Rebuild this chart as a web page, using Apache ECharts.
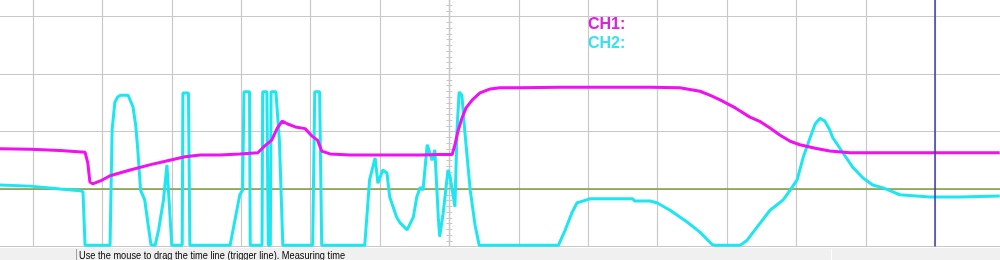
<!DOCTYPE html>
<html>
<head>
<meta charset="utf-8">
<script src="https://cdn.jsdelivr.net/npm/echarts@6/dist/echarts.min.js"></script>
<style>
html,body{margin:0;padding:0;background:#fff;}
#chart{width:1000px;height:260px;}
</style>
</head>
<body>
<div id="chart"></div>
<script>
// Time in divisions (0 = trigger line), voltage in divisions (0 = reference line)
const ch1Data = [[-6.48,0.70],[-6.04,0.69],[-5.61,0.67],[-5.25,0.64],[-5.21,0.45],[-5.18,0.12],[-5.14,0.09],[-5.03,0.14],[-4.89,0.23],[-4.60,0.33],[-4.32,0.42],[-4.03,0.50],[-3.81,0.56],[-3.59,0.59],[-3.31,0.59],[-3.02,0.61],[-2.76,0.63],[-2.66,0.75],[-2.56,0.85],[-2.48,1.06],[-2.41,1.18],[-2.33,1.13],[-2.22,1.08],[-2.08,1.05],[-1.98,0.92],[-1.90,0.85],[-1.84,0.66],[-1.72,0.61],[-1.43,0.59],[-1.00,0.59],[-0.71,0.59],[-0.42,0.59],[-0.14,0.60],[0.04,0.60],[0.08,0.77],[0.12,0.99],[0.18,1.23],[0.24,1.41],[0.33,1.55],[0.44,1.67],[0.59,1.74],[0.73,1.76],[1.02,1.76],[1.59,1.77],[2.17,1.77],[2.89,1.77],[3.32,1.76],[3.61,1.70],[3.76,1.63],[3.90,1.55],[4.12,1.41],[4.33,1.25],[4.48,1.17],[4.62,1.06],[4.76,0.94],[4.91,0.83],[5.05,0.77],[5.27,0.71],[5.48,0.66],[5.77,0.63],[6.49,0.63],[7.93,0.63]];

const ch2Data = [[-6.48,0.07],[-6.04,0.05],[-5.61,0.00],[-5.32,-0.03],[-5.28,-0.05],[-5.25,-0.98],[-4.89,-0.98],[-4.86,1.03],[-4.82,1.51],[-4.78,1.60],[-4.74,1.63],[-4.63,1.63],[-4.56,1.43],[-4.52,1.11],[-4.49,0.68],[-4.45,-0.02],[-4.39,-0.19],[-4.34,-0.63],[-4.30,-0.97],[-4.24,-0.98],[-4.19,-0.71],[-4.12,-0.19],[-4.07,0.42],[-4.04,-0.19],[-4.00,-0.98],[-3.85,-0.98],[-3.84,1.67],[-3.76,1.67],[-3.74,-0.98],[-3.16,-0.98],[-3.09,-0.54],[-3.02,-0.10],[-2.98,-0.02],[-2.96,1.69],[-2.88,1.69],[-2.87,-0.98],[-2.70,-0.98],[-2.69,1.69],[-2.63,1.69],[-2.61,-0.98],[-2.58,-0.98],[-2.57,1.69],[-2.50,1.69],[-2.45,0.85],[-2.40,-0.98],[-1.97,-0.98],[-1.94,1.69],[-1.87,1.69],[-1.84,-0.98],[-1.22,-0.98],[-1.15,0.16],[-1.07,0.54],[-1.03,0.10],[-0.96,0.33],[-0.90,0.28],[-0.86,-0.14],[-0.76,-0.49],[-0.71,-0.59],[-0.61,-0.71],[-0.52,-0.49],[-0.47,-0.14],[-0.42,0.03],[-0.38,-0.02],[-0.32,0.77],[-0.25,0.50],[-0.21,0.68],[-0.16,-0.49],[-0.14,-0.83],[-0.09,-0.42],[-0.02,0.33],[0.01,0.21],[0.08,-0.31],[0.11,1.03],[0.14,1.69],[0.18,1.63],[0.22,1.03],[0.30,-0.02],[0.37,-0.63],[0.43,-0.98],[1.57,-0.98],[1.67,-0.71],[1.77,-0.40],[1.84,-0.24],[1.92,-0.21],[2.03,-0.17],[2.64,-0.17],[2.67,-0.21],[2.89,-0.21],[2.99,-0.24],[3.18,-0.37],[3.42,-0.57],[3.61,-0.75],[3.79,-0.97],[3.84,-0.98],[4.19,-0.98],[4.29,-0.89],[4.48,-0.59],[4.62,-0.37],[4.81,-0.19],[4.91,-0.02],[5.01,0.16],[5.10,0.56],[5.20,0.90],[5.27,1.13],[5.34,1.23],[5.41,1.18],[5.48,1.03],[5.52,0.90],[5.67,0.63],[5.81,0.38],[5.96,0.19],[6.10,0.07],[6.25,0.02],[6.39,-0.05],[6.49,-0.10],[6.92,-0.14],[7.35,-0.14],[7.93,-0.12]];

const cursorTime = 7;
const channelLabels = ['CH1:', 'CH2:'];
const statusText = 'Use the mouse to drag the time line (trigger line). Measuring time';

const gridColor = '#c8c8c8';
const ch1Color = '#f010f0';
const ch2Color = '#1ee6f0';

const chart = echarts.init(document.getElementById('chart'), null, {renderer: 'canvas'});
const gridBox = {left: -36.4, right: -4.6, top: -6.5, bottom: 13.5, outerBoundsMode: 'none', containLabel: false};
chart.setOption({
  animation: false,
  backgroundColor: '#ffffff',
  grid: [Object.assign({}, gridBox), Object.assign({}, gridBox)],
  xAxis: [
    {type: 'value', min: -7, max: 8, interval: 1,
     axisLine: {show: true, onZero: true, lineStyle: {color: '#7f9b3c', width: 1.5}},
     axisTick: {show: false}, axisLabel: {show: false},
     splitLine: {show: true, lineStyle: {color: gridColor, width: 1.2}}},
    {gridIndex: 1, type: 'value', min: -7, max: 8, interval: 1, show: true,
     axisLine: {show: false, onZero: true}, axisTick: {show: false}, axisLabel: {show: false}, splitLine: {show: false}}
  ],
  yAxis: [
    {type: 'value', min: -1, max: 3.4, interval: 1,
     axisLine: {show: true, onZero: true, lineStyle: {color: gridColor, width: 1.2}},
     axisTick: {show: true, length: 3, lineStyle: {color: gridColor}},
     minorTick: {show: true, splitNumber: 10, length: 3, lineStyle: {color: gridColor}},
     axisLabel: {show: false},
     splitLine: {show: true, lineStyle: {color: gridColor, width: 1.2}}},
    {gridIndex: 1, type: 'value', min: -1, max: 3.4, interval: 1,
     axisLine: {show: true, onZero: true, lineStyle: {color: gridColor, width: 1.2}},
     axisTick: {show: true, inside: true, length: 3, lineStyle: {color: gridColor}},
     minorTick: {show: true, splitNumber: 10, length: 3, lineStyle: {color: gridColor}},
     axisLabel: {show: false}, splitLine: {show: false}}
  ],
  series: [
    {name: 'CH2', type: 'line', data: ch2Data, showSymbol: false, symbol: 'none',
     lineStyle: {color: ch2Color, width: 3}, z: 3,
     markLine: {silent: true, symbol: 'none', label: {show: false},
       lineStyle: {color: '#3b3ba8', width: 1.5, type: 'solid'},
       data: [{xAxis: cursorTime}]}},
    {name: 'CH1', type: 'line', data: ch1Data, showSymbol: false, symbol: 'none',
     lineStyle: {color: ch1Color, width: 3}, z: 4}
  ],
  graphic: [
    {type: 'text', left: 588, top: 17, z: 10,
     style: {text: channelLabels[0], fill: '#e020e0', font: 'bold 16px "Liberation Sans", Arial, sans-serif'}},
    {type: 'text', left: 588, top: 36, z: 10,
     style: {text: channelLabels[1], fill: '#38e2ee', font: 'bold 16px "Liberation Sans", Arial, sans-serif'}},
    {type: 'rect', shape: {x: 0, y: 248, width: 1000, height: 12}, z: 20,
     style: {fill: '#f0f0f0'}},
    {type: 'line', shape: {x1: 76.5, y1: 249, x2: 76.5, y2: 260}, z: 21,
     style: {stroke: '#a0a0a0', lineWidth: 1}},
    {type: 'line', shape: {x1: 831.5, y1: 249, x2: 831.5, y2: 260}, z: 21,
     style: {stroke: '#ffffff', lineWidth: 1}},
    {type: 'text', x: 79, y: 250, scaleX: 0.84, z: 22,
     style: {text: statusText, fill: '#000000', font: '11px "Liberation Sans", Arial, sans-serif', textVerticalAlign: 'top'}}
  ]
});
</script>
</body>
</html>
